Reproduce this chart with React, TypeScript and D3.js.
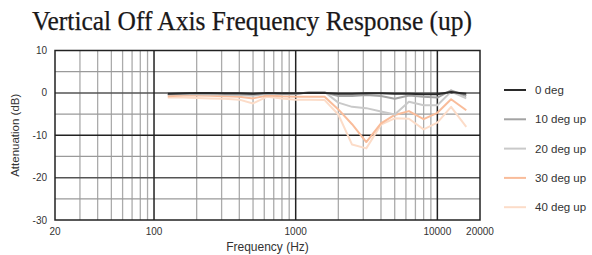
import React from 'react';
import * as d3 from 'd3';

// 1/3-octave measurement points (Hz)
const freqs = [125, 160, 200, 250, 315, 400, 500, 630, 800, 1000, 1250, 1600, 2000, 2500, 3150, 4000, 5000, 6300, 8000, 10000, 12500, 16000];

const deg0 = [-0.2, -0.1, 0, 0, -0.1, -0.1, -0.2, 0, -0.1, -0.1, 0, 0, -0.2, -0.2, -0.1, -0.1, -0.2, -0.2, -0.3, -0.3, 0.2, -0.2];
const deg10 = [-0.3, -0.2, -0.2, -0.2, -0.3, -0.3, -0.4, -0.2, -0.2, -0.2, 0.1, 0.1, -0.75, -0.75, -0.5, -0.75, -1.4, -0.6, -0.9, -1.1, 0.6, -0.75];
const deg20 = [-0.3, -0.3, -0.3, -0.4, -0.4, -0.5, -0.7, -0.2, -0.3, -0.3, 0.2, 0.2, -2.3, -3.3, -3.6, -4.4, -5.1, -2.1, -2.9, -2.9, 0.3, -1.3];
const deg30 = [-0.8, -0.6, -0.6, -0.7, -0.8, -0.9, -1.3, -0.6, -0.8, -0.9, -0.9, -0.9, -3.9, -7.4, -11.6, -7.2, -5.2, -4.3, -6.2, -4.7, -1.5, -4.1];
const deg40 = [-1.1, -1.1, -1.2, -1.3, -1.4, -1.6, -2.5, -0.9, -1.3, -1.6, -1.6, -1.7, -5.1, -12.2, -13.1, -7.5, -6.0, -6.1, -8.6, -7.0, -3.3, -8.0];

const seriesNames = ['0 deg', '10 deg up', '20 deg up', '30 deg up', '40 deg up'];
const seriesValues = [deg0, deg10, deg20, deg30, deg40];
const seriesColors = ['#2a2a2a', '#a3a3a3', '#c9c9c9', '#f9bc9a', '#fcdcc8'];

const xTicks = [20, 100, 1000, 10000, 20000];
const yTicks = [10, 0, -10, -20, -30];

const W = 592;
const H = 255;
const margin = { left: 55, right: 112, top: 50.5, bottom: 35 };

export default function App() {
  const x = d3.scaleLog().domain([20, 20000]).range([margin.left, W - margin.right]);
  const y = d3.scaleLinear().domain([-30, 10]).range([H - margin.bottom, margin.top]);

  // minor vertical grid: 30..90, 200..900, 2000..9000
  const minorX: number[] = [];
  [10, 100, 1000].forEach(dec => {
    for (let k = 2; k <= 9; k++) {
      const f = k * dec;
      if (f > 20 && f < 20000) minorX.push(f);
    }
  });
  const majorX = [100, 1000, 10000];
  const minorY = d3.range(5, -30, -5).filter(v => v % 10 !== 0);

  const line = d3.line<number>()
    .x((_, i) => x(freqs[i]))
    .y(d => y(d));

  const x0 = x(20), x1 = x(20000), y0 = y(-30), y1 = y(10);

  return (
    <svg width={W} height={H} style={{ position: 'absolute', left: 0, top: 0 }}
      fontFamily="'Liberation Sans', Arial, sans-serif">
      <rect width={W} height={H} fill="#fff" />
      <text x={32} y={30} fontFamily="'Liberation Serif', 'DejaVu Serif', serif" fontSize={27.5}
        fill="#1a1718" stroke="#1a1718" strokeWidth={0.25} textLength={440} lengthAdjust="spacingAndGlyphs">
        Vertical Off Axis Frequency Response (up)
      </text>

      {/* grid */}
      {minorX.map(f => (
        <line key={'mx' + f} x1={x(f)} x2={x(f)} y1={y1} y2={y0} stroke="#ababab" strokeWidth={1.3} />
      ))}
      {minorY.map(v => (
        <line key={'my' + v} x1={x0} x2={x1} y1={y(v)} y2={y(v)} stroke="#9a9a9a" strokeWidth={1.2} />
      ))}
      {[0, -20].map(v => (
        <line key={'hy' + v} x1={x0} x2={x1} y1={y(v)} y2={y(v)} stroke="#555" strokeWidth={1.5} />
      ))}
      <line x1={x0} x2={x1} y1={y(-10)} y2={y(-10)} stroke="#222" strokeWidth={1.5} />
      {majorX.map(f => (
        <line key={'Mx' + f} x1={x(f)} x2={x(f)} y1={y1} y2={y0} stroke="#222" strokeWidth={1.5} />
      ))}

      {/* curves, 40 deg drawn first */}
      {seriesValues.map((vals, i) => i).reverse().map(i => (
        <path key={seriesNames[i]} d={line(seriesValues[i]) || ''} fill="none"
          stroke={seriesColors[i]} strokeWidth={2} strokeLinejoin="round" />
      ))}

      <rect x={x0} y={y1} width={x1 - x0} height={y0 - y1} fill="none" stroke="#222" strokeWidth={1.5} />

      {/* axes labels */}
      {yTicks.map(v => (
        <text key={'yt' + v} x={x0 - 8} y={y(v) + 3.5} textAnchor="end" fontSize={10} fill="#333">{v}</text>
      ))}
      {xTicks.map(f => (
        <text key={'xt' + f} x={x(f)} y={y0 + 15} textAnchor="middle" fontSize={10} fill="#333">{f}</text>
      ))}
      <text x={(x0 + x1) / 2} y={251} textAnchor="middle" fontSize={12} fill="#333">Frequency (Hz)</text>
      <text transform={`translate(19,${(y0 + y1) / 2}) rotate(-90)`} textAnchor="middle" fontSize={11.5} fill="#333">
        Attenuation (dB)
      </text>

      {/* legend */}
      {seriesNames.map((name, i) => {
        const ly = 90 + i * 29.3;
        return (
          <g key={'lg' + name}>
            <line x1={504} x2={526} y1={ly} y2={ly} stroke={seriesColors[i]} strokeWidth={2} />
            <text x={535} y={ly + 4} fontSize={11.5} fill="#333">{name}</text>
          </g>
        );
      })}
    </svg>
  );
}
